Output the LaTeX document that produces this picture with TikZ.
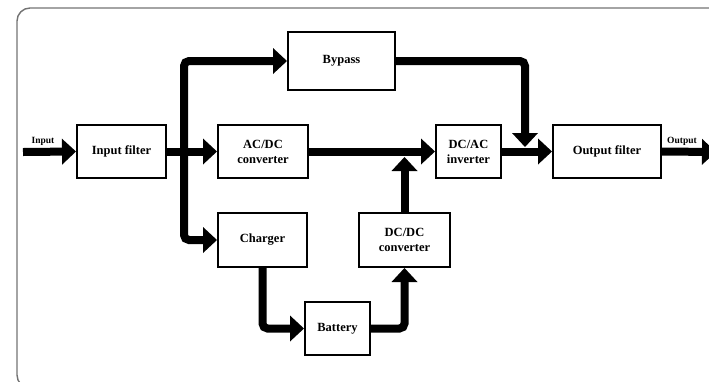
\documentclass[tikz,border=0pt]{standalone}
\usepackage{fontspec}
\setmainfont{Liberation Serif}
\usetikzlibrary{arrows.meta}
\begin{document}
\begin{tikzpicture}[x=1pt,y=-1pt,
  blk/.style={draw, line width=2pt, align=center, inner sep=0pt,
    font=\fontsize{12.5}{15}\selectfont\bfseries},
  flow/.style={line width=8pt, -{Triangle[length=14pt,width=26pt,line width=0pt]}},
  flowr/.style={flow, rounded corners=5pt},
  lbl/.style={font=\fontsize{9.5}{11}\selectfont\bfseries, inner sep=0pt}]
\useasboundingbox (0,0) rectangle (709,381);
\draw[line width=1.4pt, color=black!55, rounded corners=13pt] (17,8) rectangle (740,388);
% boxes
\node[blk, minimum width=89pt, minimum height=53pt] (inf) at (121.5,151.5) {Input filter};
\node[blk, minimum width=90pt, minimum height=53pt] (acdc) at (263,151.5) {AC/DC\\converter};
\node[blk, minimum width=107pt, minimum height=58pt] (byp) at (341.5,61) {Bypass};
\node[blk, minimum width=65pt, minimum height=53pt] (inv) at (468.5,151.5) {DC/AC\\inverter};
\node[blk, minimum width=108pt, minimum height=53pt] (outf) at (607,151.5) {Output filter};
\node[blk, minimum width=89pt, minimum height=54pt] (chg) at (262.5,240) {Charger};
\node[blk, minimum width=65pt, minimum height=53pt] (bat) at (337.5,328.5) {Battery};
\node[blk, minimum width=91pt, minimum height=54pt] (dcdc) at (404.5,240) {DC/DC\\converter};
% coordinates
\coordinate (inS) at (23,152);
\coordinate (outE) at (716,152);
\coordinate (sp) at (184,152);
\coordinate (j1) at (404.5,157);
\coordinate (j2) at (525,147);
% labels
\node[lbl] (linput) at (43,141) {Input};
\node[lbl] (loutput) at (682,141) {Output};
% connectors
\draw[flow] (inS) -- (inf.west);
\draw[flow] (inf.east) -- (acdc.west);
\draw[flowr] (sp) |- (byp.west);
\draw[flowr] (sp) |- (chg.west);
\draw[flow] (acdc.east) -- (inv.west);
\draw[flowr] (byp.east) -| (j2);
\draw[flow] (inv.east) -- (outf.west);
\draw[flow] (dcdc.north) -- (j1);
\draw[flowr] (chg.south) |- (bat.west);
\draw[flowr] (bat.east) -| (dcdc.south);
\draw[flow] (outf.east) -- (outE);
\end{tikzpicture}
\end{document}
